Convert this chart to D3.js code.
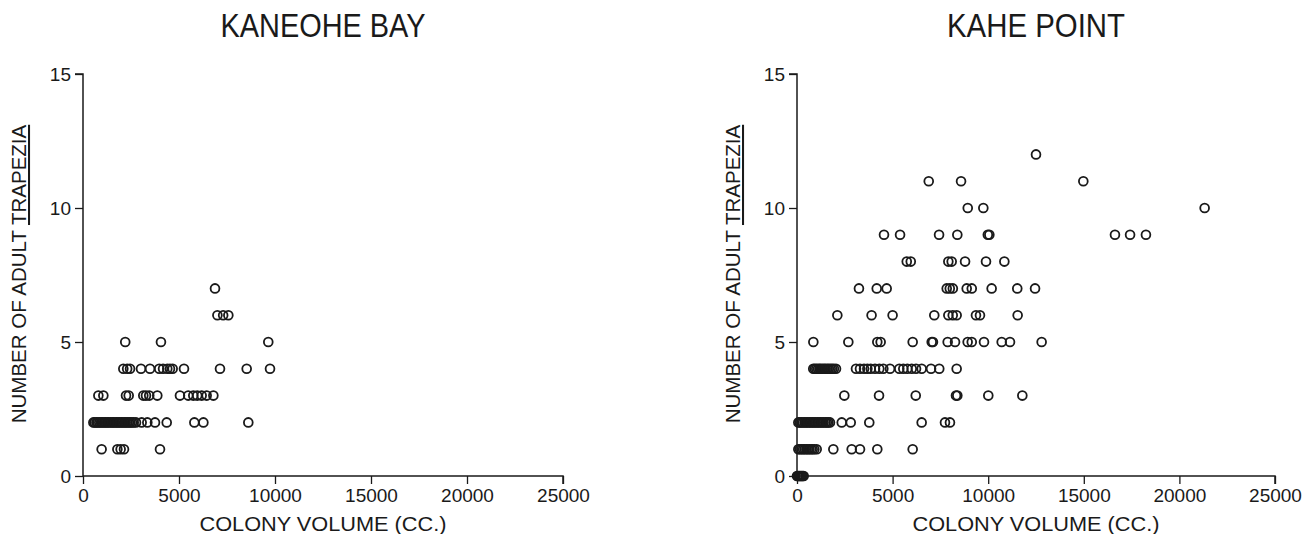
<!DOCTYPE html>
<html>
<head>
<meta charset="utf-8">
<script src="https://cdn.jsdelivr.net/npm/d3@7"></script>
<style>
  body { margin: 0; background: #fff; }
  text { font-family: "Liberation Sans", Arial, sans-serif; fill: #1a1a1a; }
</style>
</head>
<body>
<svg width="1304" height="534"></svg>
<script>
// [colony volume (cc), number of adult Trapezia]
var kaneohePoints = [
  [6875, 7],
  [7000, 6], [7300, 6], [7570, 6],
  [2200, 5], [4060, 5], [9650, 5],
  [2100, 4], [2300, 4], [2450, 4], [3020, 4], [3490, 4], [3970, 4], [4170, 4], [4390, 4],
  [4530, 4], [4670, 4], [5260, 4], [7135, 4], [8525, 4], [9740, 4],
  [800, 3], [1060, 3], [2240, 3], [2380, 3], [3140, 3], [3280, 3], [3450, 3], [3870, 3],
  [5050, 3], [5480, 3], [5745, 3], [5950, 3], [6180, 3], [6440, 3], [6790, 3],
  [540, 2], [610, 2], [700, 2], [770, 2], [850, 2], [940, 2], [1010, 2], [1100, 2],
  [1170, 2], [1260, 2], [1330, 2], [1420, 2], [1510, 2], [1580, 2], [1660, 2], [1750, 2],
  [1820, 2], [1900, 2], [1990, 2], [2060, 2], [2150, 2], [2220, 2], [2300, 2], [2390, 2],
  [2460, 2], [2550, 2], [2640, 2], [2760, 2], [3055, 2], [3350, 2], [3750, 2], [4360, 2],
  [5800, 2], [6270, 2], [8610, 2],
  [970, 1], [1790, 1], [1960, 1], [2135, 1], [4010, 1]
];

var kahePoints = [
  [12500, 12],
  [6890, 11], [8580, 11], [14975, 11],
  [8930, 10], [9745, 10], [21320, 10],
  [4550, 9], [5390, 9], [7430, 9], [8385, 9], [9980, 9], [10060, 9], [16630, 9], [17420, 9], [18250, 9],
  [5740, 8], [5950, 8], [7915, 8], [8090, 8], [8790, 8], [9885, 8], [10845, 8],
  [3240, 7], [4170, 7], [4690, 7], [7830, 7], [7990, 7], [8150, 7], [8875, 7], [9140, 7],
  [10180, 7], [11520, 7], [12450, 7],
  [2110, 6], [3900, 6], [5000, 6], [7180, 6], [7915, 6], [8145, 6], [8350, 6], [9360, 6],
  [9570, 6], [11540, 6],
  [855, 5], [2685, 5], [4200, 5], [4375, 5], [6050, 5], [7045, 5], [7110, 5], [7880, 5],
  [8265, 5], [8925, 5], [9140, 5], [9780, 5], [10705, 5], [11140, 5], [12795, 5],
  [850, 4], [930, 4], [1010, 4], [1100, 4], [1180, 4], [1250, 4], [1340, 4], [1420, 4],
  [1500, 4], [1590, 4], [1670, 4], [1760, 4], [1840, 4], [1930, 4], [2040, 4],
  [3085, 4], [3295, 4], [3505, 4], [3680, 4], [3855, 4], [4080, 4], [4305, 4], [4515, 4], [4865, 4],
  [5350, 4], [5560, 4], [5770, 4], [6000, 4], [6225, 4], [6520, 4], [7010, 4], [7440, 4], [8350, 4],
  [2475, 3], [4290, 3], [6210, 3], [8315, 3], [8385, 3], [10005, 3], [11785, 3],
  [70, 2], [150, 2], [230, 2], [310, 2], [400, 2], [470, 2], [560, 2], [640, 2], [720, 2],
  [810, 2], [890, 2], [970, 2], [1060, 2], [1140, 2], [1220, 2], [1310, 2], [1390, 2],
  [1480, 2], [1560, 2], [1640, 2], [1725, 2],
  [2340, 2], [2810, 2], [3780, 2], [6520, 2], [7740, 2], [8000, 2],
  [70, 1], [150, 1], [240, 1], [320, 1], [400, 1], [490, 1], [570, 1], [650, 1], [740, 1],
  [820, 1], [910, 1], [1030, 1], [1900, 1], [2860, 1], [3295, 1], [4200, 1], [6050, 1],
  [0, 0], [50, 0], [100, 0], [150, 0], [200, 0], [250, 0], [300, 0], [350, 0]
];

var xTicks = [0, 5000, 10000, 15000, 20000, 25000];
var yTicks = [0, 5, 10, 15];

var panels = [
  { title: "KANEOHE BAY", titleWidth: 205, points: kaneohePoints, left: 83, width: 480 },
  { title: "KAHE POINT", titleWidth: 178, points: kahePoints, left: 797, width: 478 }
];

var plotTop = 74, plotBottom = 476;
var plotH = plotBottom - plotTop;
var svg = d3.select("svg");
var ink = "#1a1a1a";

panels.forEach(function(p) {
  var x = d3.scaleLinear().domain([0, 25000]).range([0, p.width]);
  var y = d3.scaleLinear().domain([0, 15]).range([plotH, 0]);
  var g = svg.append("g").attr("transform", "translate(" + p.left + "," + plotTop + ")");

  // axes
  var xAxis = g.append("g")
      .attr("transform", "translate(0," + plotH + ")")
      .call(d3.axisBottom(x).tickValues(xTicks).tickSize(8).tickPadding(5).tickFormat(d3.format("d")));
  var yAxis = g.append("g")
      .call(d3.axisLeft(y).tickValues(yTicks).tickSize(8).tickPadding(4));

  [xAxis, yAxis].forEach(function(a) {
    a.select(".domain").attr("stroke", ink).attr("stroke-width", 1.5);
    a.selectAll(".tick line").attr("stroke", ink).attr("stroke-width", 1.3);
    a.selectAll(".tick text").attr("fill", ink).style("font-size", "19px")
      .style("font-family", "'Liberation Sans', Arial, sans-serif");
  });
  xAxis.select(".domain").attr("d", "M0,0H" + p.width + "V8");
  yAxis.select(".domain").attr("d", "M0," + plotH + "V0H-8");

  // points
  g.selectAll("circle").data(p.points).enter().append("circle")
      .attr("cx", function(d) { return x(d[0]); })
      .attr("cy", function(d) { return y(d[1]); })
      .attr("r", 4.4)
      .attr("fill", "none")
      .attr("stroke", ink)
      .attr("stroke-width", 1.8);

  // title
  svg.append("text")
      .attr("x", p.left + p.width / 2)
      .attr("y", 37)
      .attr("text-anchor", "middle")
      .attr("textLength", p.titleWidth)
      .attr("lengthAdjust", "spacingAndGlyphs")
      .style("font-size", "33px")
      .text(p.title);

  // x label
  svg.append("text")
      .attr("x", p.left + p.width / 2)
      .attr("y", 531)
      .attr("text-anchor", "middle")
      .attr("textLength", 247)
      .attr("lengthAdjust", "spacingAndGlyphs")
      .style("font-size", "20px")
      .text("COLONY VOLUME (CC.)");

  // y label, with the genus underlined
  var yl = svg.append("text")
      .attr("transform", "translate(" + (p.left - 57) + "," + 274 + ") rotate(-90)")
      .attr("text-anchor", "middle")
      .style("font-size", "20.5px");
  yl.append("tspan").text("NUMBER OF ADULT ");
  yl.append("tspan").style("text-decoration", "underline").text("TRAPEZIA");
});
</script>
</body>
</html>
